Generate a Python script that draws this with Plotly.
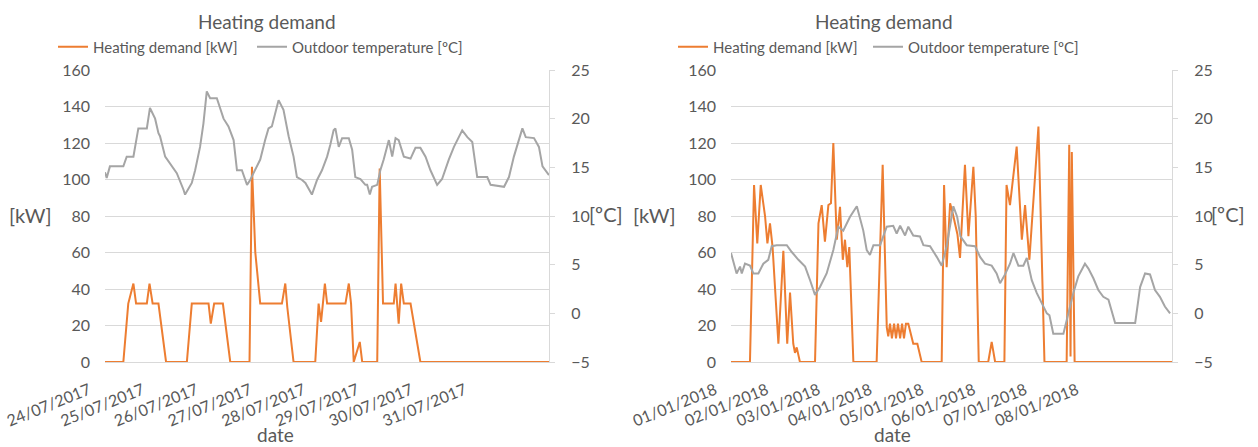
import plotly.graph_objects as go

# ---------------- data (hours since first tick) ----------------
L_TICKS = ["24/07/2017", "25/07/2017", "26/07/2017", "27/07/2017",
           "28/07/2017", "29/07/2017", "30/07/2017", "31/07/2017"]
R_TICKS = ["01/01/2018", "02/01/2018", "03/01/2018", "04/01/2018",
           "05/01/2018", "06/01/2018", "07/01/2018", "08/01/2018"]
TICK_HOURS = [0, 24, 48, 72, 96, 120, 144, 168]

# Left chart (July 2017)
L_DEM_H = [0, 8.2, 10.4, 12.7, 13.9, 18.7, 19.9, 21.3, 23.9, 27.3, 36.6, 38.8, 46.3, 47.3,
           48.8, 52.7, 56.0, 64.6, 65.7, 67.2, 69.4, 79.1, 80.6, 81.5, 84.3, 94.0, 95.5,
           96.6, 98.3, 99.3, 107.5, 109.0, 110.0, 111.2, 113.9, 115.0, 121.7, 122.8, 124.3,
           129.1, 129.9, 131.3, 132.4, 133.6, 136.6, 141.0, 198.5]
L_DEM = [0, 0, 32, 43, 32, 32, 43, 32, 32, 0, 0, 32, 32, 21, 32, 32, 0, 0, 107, 60, 32, 32,
         43, 30, 0, 0, 32, 22, 43, 32, 32, 43, 32, 0, 11, 0, 0, 106, 32, 32, 43, 21, 43, 32,
         32, 0, 0]
L_TEMP_H = [0, 0.75, 2.2, 8.2, 9.7, 12.7, 14.9, 18.7, 20.1, 22.4, 23.9, 24.6, 26.9, 29.9,
            32.1, 35.1, 35.8, 38.8, 40.3, 42.5, 44.0, 45.5, 47.0, 50.0, 53.0, 55.2, 57.5,
            59.0, 61.2, 63.5, 64.9, 66.4, 69.4, 71.6, 73.1, 74.6, 77.6, 79.8, 82.1, 84.3,
            85.8, 88.1, 89.6, 92.5, 94.8, 97.0, 99.3, 100.7, 102.2, 103.0, 104.5, 106.0,
            109.0, 110.5, 111.9, 114.2, 116.4, 117.2, 118.4, 119.4, 121.7, 123.1, 124.6,
            126.9, 128.4, 129.9, 131.3, 133.6, 136.6, 138.8, 141.0, 143.3, 145.5, 148.5,
            150.7, 153.7, 156.0, 159.7, 162.0, 164.2, 166.4, 170.9, 172.4, 178.4, 180.6,
            182.8, 184.4, 186.6, 188.1, 191.8, 194.0, 195.6, 198.5]
L_TEMP = [14.5, 13.9, 15.1, 15.1, 16.1, 16.1, 19.0, 19.0, 21.1, 20.0, 18.5, 18.2, 16.1, 15.1,
          14.4, 12.7, 12.2, 13.4, 14.7, 17.1, 19.5, 22.8, 22.1, 22.1, 20.0, 19.2, 17.8, 14.7,
          14.7, 13.2, 13.7, 14.4, 15.8, 17.8, 19.0, 19.2, 21.9, 20.9, 18.2, 16.1, 14.0, 13.7,
          13.4, 12.2, 13.7, 14.7, 16.1, 17.3, 18.8, 19.0, 17.1, 18.0, 18.0, 16.8, 14.0, 13.8,
          13.2, 13.2, 12.2, 13.0, 13.2, 14.7, 15.8, 17.8, 16.1, 18.0, 17.8, 16.1, 15.9, 17.0,
          17.0, 16.1, 14.7, 13.2, 13.8, 15.8, 17.1, 18.8, 18.1, 17.6, 14.0, 14.0, 13.2, 13.0,
          14.0, 16.1, 17.3, 19.0, 18.1, 18.0, 17.1, 15.1, 14.2]

# Right chart (January 2018)
R_DEM_H = [0, 8.8, 10.7, 12.2, 13.8, 15.8, 16.9, 18.1, 19.3, 22.0, 24.3, 26.1, 27.4, 28.9,
           29.7, 30.5, 32.0, 39.0, 40.6, 42.1, 43.6, 45.2, 46.4, 47.5, 49.1, 50.6, 51.9,
           52.9, 54.0, 54.9, 56.8, 67.6, 70.4, 72.3, 73.0, 73.8, 74.7, 75.7, 76.6, 77.5,
           78.5, 79.4, 80.3, 81.2, 82.3, 84.6, 86.5, 88.5, 97.8, 98.9, 100.1, 101.7, 103.2,
           105.1, 106.3, 108.6, 110.2, 112.5, 113.6, 115.0, 119.4, 121.0, 122.6, 126.9,
           127.9, 129.5, 132.6, 135.0, 136.5, 138.5, 142.7, 145.5, 155.8, 157.0, 157.6,
           158.2, 159.5, 204.7]
R_DEM = [0, 0, 97, 65, 97, 80, 65, 76, 63, 10, 61, 10, 38, 10, 5, 8, 0, 0, 76, 86, 66, 86,
         87, 120, 67, 85, 56, 67, 52, 63, 0, 0, 108, 19, 14, 21, 13, 21, 13, 21, 13, 21, 13,
         21, 21, 10, 10, 0, 0, 97, 52, 87, 80, 70, 57, 108, 69, 107, 80, 0, 0, 11, 0, 0,
         97, 86, 118, 67, 86, 56, 129, 0, 0, 119, 3, 115, 0, 0]
R_TEMP_H = [0, 1.9, 2.6, 4.2, 5.0, 6.5, 8.8, 10.4, 12.7, 15.0, 17.3, 18.9, 21.2, 25.9, 28.2,
            31.3, 34.4, 36.7, 39.0, 41.3, 44.4, 47.5, 49.8, 52.1, 55.2, 58.4, 61.4, 63.0,
            64.5, 66.1, 69.2, 72.3, 75.3, 76.9, 78.5, 80.8, 82.3, 84.6, 87.7, 89.3, 92.4,
            95.5, 97.8, 100.1, 103.2, 105.0, 106.5, 109.4, 113.3, 115.6, 117.9, 121.0, 123.3,
            124.9, 127.2, 129.5, 131.1, 133.4, 135.7, 137.3, 139.6, 141.9, 144.2, 146.6,
            147.8, 149.6, 154.3, 156.6, 158.9, 161.2, 164.3, 165.9, 168.2, 170.5, 172.8,
            175.2, 178.3, 187.6, 189.9, 192.2, 194.5, 196.8, 199.1, 201.4, 203.8]
R_TEMP = [6.2, 4.8, 4.1, 4.8, 4.1, 5.1, 4.9, 4.1, 4.1, 5.1, 5.5, 6.9, 7.0, 7.0, 6.3, 5.5, 4.8,
          3.4, 1.9, 2.7, 4.1, 6.5, 8.9, 8.5, 9.9, 11.0, 8.5, 6.5, 6.0, 7.0, 7.0, 8.9, 9.0, 8.2,
          9.0, 8.0, 8.9, 8.0, 7.9, 7.0, 6.9, 5.8, 4.9, 6.9, 11.0, 9.9, 7.9, 7.0, 6.9, 5.8, 5.1,
          4.9, 4.1, 3.1, 4.0, 5.1, 6.2, 4.9, 4.9, 5.7, 3.4, 2.1, 1.0, 0.0, -0.2, -2.1, -2.1,
          0.0, 2.1, 3.8, 5.1, 4.6, 3.6, 2.4, 1.7, 1.4, -1.0, -1.0, 2.7, 4.1, 4.0, 2.4, 1.7, 0.7,
          0.0]

# ---------------- styling ----------------
W, H = 1258, 447
ORANGE = "#ED7D31"
GREY = "#A5A5A5"
TXT = "#595959"
GRID = "#D9D9D9"
FONT = "Lato"


def px(x):
    return x / W


def py(y):
    return 1 - y / H


fig = go.Figure()

fig.add_trace(go.Scatter(x=L_DEM_H, y=L_DEM, mode="lines", name="Heating demand [kW]",
                         line=dict(color=ORANGE, width=2), xaxis="x", yaxis="y",
                         legend="legend"))
fig.add_trace(go.Scatter(x=L_TEMP_H, y=L_TEMP, mode="lines", name="Outdoor temperature [ºC]",
                         line=dict(color=GREY, width=2), xaxis="x", yaxis="y2",
                         legend="legend2"))
fig.add_trace(go.Scatter(x=R_DEM_H, y=R_DEM, mode="lines", name="Heating demand [kW]",
                         line=dict(color=ORANGE, width=2), xaxis="x2", yaxis="y3",
                         legend="legend3"))
fig.add_trace(go.Scatter(x=R_TEMP_H, y=R_TEMP, mode="lines", name="Outdoor temperature [ºC]",
                         line=dict(color=GREY, width=2), xaxis="x2", yaxis="y4",
                         legend="legend4"))

ydom = [py(362), py(70)]
tickfont = dict(family=FONT, size=16, color=TXT)

xcommon = dict(tickvals=TICK_HOURS, tickangle=-22, showgrid=False, zeroline=False,
               showline=True, linecolor=GRID, linewidth=1, ticks="", tickfont=tickfont,
               ticklabelshift=-16, ticklabelstandoff=12, automargin=False)
ykw = dict(range=[0, 160], dtick=20, tick0=0, showgrid=True, gridcolor=GRID, gridwidth=1,
           zeroline=False, showline=False, ticks="", tickfont=tickfont, ticklabelstandoff=14,
           automargin=False)
ytemp = dict(range=[-5, 25], dtick=5, tick0=-5, showgrid=False, zeroline=False,
             showline=True, linecolor=GRID, linewidth=1, ticks="outside", ticklen=5,
             tickcolor=GRID, tickfont=tickfont, ticklabelstandoff=13, side="right",
             automargin=False)
legfont = dict(family=FONT, size=15, color=TXT)


def leg(text_left):
    # legend text begins 40 px right of the legend's x position
    return dict(orientation="h", x=px(text_left - 40), y=py(47), xanchor="left",
                yanchor="middle", font=legfont, bgcolor="rgba(0,0,0,0)", itemwidth=30)


fig.update_layout(
    width=W, height=H, margin=dict(l=0, r=0, t=0, b=0, autoexpand=False),
    paper_bgcolor="white", plot_bgcolor="white",
    font=dict(family=FONT, color=TXT),
    xaxis=dict(domain=[px(105), px(549)], range=[0, 198.5], ticktext=L_TICKS,
               anchor="y", **xcommon),
    yaxis=dict(domain=ydom, anchor="x", **ykw),
    yaxis2=dict(overlaying="y", anchor="x", **ytemp),
    xaxis2=dict(domain=[px(731), px(1172)], range=[0, 204.7], ticktext=R_TICKS,
                anchor="y3", **xcommon),
    yaxis3=dict(domain=ydom, anchor="x2", **ykw),
    yaxis4=dict(overlaying="y3", anchor="x2", **ytemp),
    legend=leg(93), legend2=leg(292), legend3=leg(713), legend4=leg(908),
    showlegend=True,
)

annots = [
    dict(text="Heating demand", x=px(267), y=py(22), size=19, xanchor="center", yanchor="middle"),
    dict(text="Heating demand", x=px(884), y=py(22), size=19, xanchor="center", yanchor="middle"),
    dict(text="[kW]", x=px(30), y=py(215), size=20, xanchor="center", yanchor="middle"),
    dict(text="[kW]", x=px(654), y=py(215), size=20, xanchor="center", yanchor="middle"),
    dict(text="[ºC]", x=px(588), y=py(214), size=20, xanchor="left", yanchor="middle"),
    dict(text="[ºC]", x=px(1210), y=py(214), size=20, xanchor="left", yanchor="middle"),
    dict(text="date", x=px(275), y=py(447), size=19, xanchor="center", yanchor="bottom"),
    dict(text="date", x=px(892), y=py(447), size=19, xanchor="center", yanchor="bottom"),
]
for a in annots:
    fig.add_annotation(text=a["text"], x=a["x"], y=a["y"], xref="paper", yref="paper",
                       xanchor=a["xanchor"], yanchor=a["yanchor"], showarrow=False,
                       borderpad=0, font=dict(family=FONT, size=a["size"], color=TXT))

fig.write_html("out.html", config={"displayModeBar": False},
               post_script="document.body.style.margin='0';")
